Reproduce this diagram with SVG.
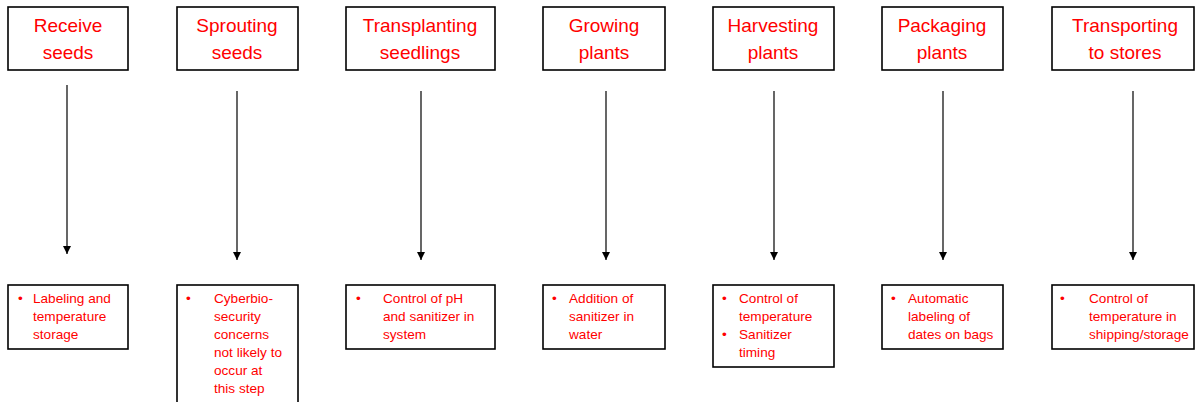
<svg xmlns="http://www.w3.org/2000/svg" width="1195" height="402" viewBox="0 0 1195 402">
<style>
.box{fill:#fff;stroke:#000;stroke-width:1.6}
.t{font-family:"Liberation Sans",Arial,sans-serif;font-size:19px;fill:#ff0000;text-anchor:middle}
.b{font-family:"Liberation Sans",Arial,sans-serif;font-size:13.6px;fill:#ff0000}
.c{stroke:#000;stroke-width:1.2;fill:none;marker-end:url(#ah)}
</style>
<defs>
<marker id="ah" viewBox="0 0 8 10" refX="8" refY="5" markerWidth="8" markerHeight="10" markerUnits="userSpaceOnUse" orient="auto">
<path d="M0,1 L8,5 L0,9 Z" fill="#000"/>
</marker>
</defs>
<rect width="1195" height="402" fill="#fff"/>
<g id="connectors">
<line class="c" x1="67" y1="85" x2="67" y2="254"/>
<line class="c" x1="237" y1="91" x2="237" y2="260"/>
<line class="c" x1="421" y1="91" x2="421" y2="260"/>
<line class="c" x1="606" y1="91" x2="606" y2="260"/>
<line class="c" x1="774" y1="91" x2="774" y2="260"/>
<line class="c" x1="943" y1="91" x2="943" y2="260"/>
<line class="c" x1="1133" y1="91" x2="1133" y2="260"/>
</g>
<g id="n1"><rect class="box" x="8" y="7" width="120" height="63"/><text class="t" x="68" y="32">Receive</text><text class="t" x="68" y="59">seeds</text></g>
<g id="n2"><rect class="box" x="177" y="7" width="121" height="63"/><text class="t" x="237" y="32">Sprouting</text><text class="t" x="237" y="59">seeds</text></g>
<g id="n3"><rect class="box" x="346" y="7" width="149" height="63"/><text class="t" x="420" y="32">Transplanting</text><text class="t" x="420" y="59">seedlings</text></g>
<g id="n4"><rect class="box" x="543" y="7" width="122" height="63"/><text class="t" x="604" y="32">Growing</text><text class="t" x="604" y="59">plants</text></g>
<g id="n5"><rect class="box" x="713" y="7" width="121" height="63"/><text class="t" x="773" y="32">Harvesting</text><text class="t" x="773" y="59">plants</text></g>
<g id="n6"><rect class="box" x="882" y="7" width="121" height="63"/><text class="t" x="942" y="32">Packaging</text><text class="t" x="942" y="59">plants</text></g>
<g id="n7"><rect class="box" x="1052" y="7" width="142" height="63"/><text class="t" x="1125" y="32">Transporting</text><text class="t" x="1125" y="59">to stores</text></g>
<g id="d1"><rect class="box" x="8" y="285" width="120" height="64"/>
<text class="b" x="18" y="303">•</text>
<text class="b" x="33" y="303">Labeling and</text><text class="b" x="33" y="321">temperature</text><text class="b" x="33" y="339">storage</text></g>
<g id="d2"><rect class="box" x="177" y="285" width="121" height="130"/>
<text class="b" x="186" y="303">•</text>
<text class="b" x="214" y="303">Cyberbio-</text><text class="b" x="214" y="321">security</text><text class="b" x="214" y="339">concerns</text><text class="b" x="214" y="357">not likely to</text><text class="b" x="214" y="375">occur at</text><text class="b" x="214" y="393">this step</text></g>
<g id="d3"><rect class="box" x="346" y="285" width="149" height="64"/>
<text class="b" x="356" y="303">•</text>
<text class="b" x="383" y="303">Control of pH</text><text class="b" x="383" y="321">and sanitizer in</text><text class="b" x="383" y="339">system</text></g>
<g id="d4"><rect class="box" x="543" y="285" width="122" height="64"/>
<text class="b" x="552" y="303">•</text>
<text class="b" x="569" y="303">Addition of</text><text class="b" x="569" y="321">sanitizer in</text><text class="b" x="569" y="339">water</text></g>
<g id="d5"><rect class="box" x="713" y="285" width="121" height="82"/>
<text class="b" x="722" y="303">•</text>
<text class="b" x="739" y="303">Control of</text><text class="b" x="739" y="321">temperature</text>
<text class="b" x="722" y="339">•</text>
<text class="b" x="739" y="339">Sanitizer</text><text class="b" x="739" y="357">timing</text></g>
<g id="d6"><rect class="box" x="882" y="285" width="121" height="64"/>
<text class="b" x="891" y="303">•</text>
<text class="b" x="908" y="303">Automatic</text><text class="b" x="908" y="321">labeling of</text><text class="b" x="908" y="339">dates on bags</text></g>
<g id="d7"><rect class="box" x="1052" y="285" width="142" height="64"/>
<text class="b" x="1060" y="303">•</text>
<text class="b" x="1089" y="303">Control of</text><text class="b" x="1089" y="321">temperature in</text><text class="b" x="1089" y="339">shipping/storage</text></g>
</svg>
